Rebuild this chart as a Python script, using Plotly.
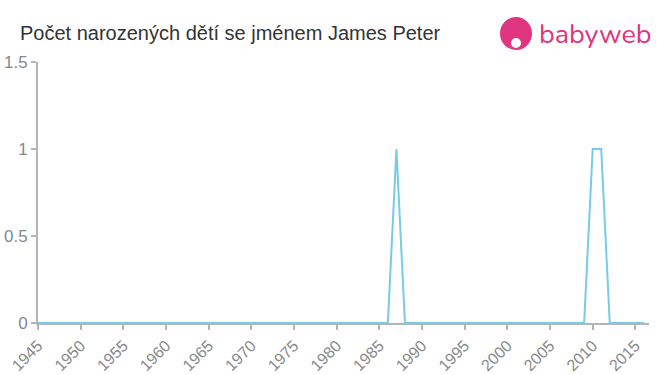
import plotly.graph_objects as go

years = list(range(1945, 2017))
ones = {1987, 2010, 2011}
counts = [1 if y in ones else 0 for y in years]
x_ticks = list(range(1945, 2016, 5))
y_ticks = [0, 0.5, 1, 1.5]
y_labels = ["0", "0.5", "1", "1.5"]

fig = go.Figure()
fig.add_trace(go.Scatter(x=years, y=counts, mode="lines",
                         line=dict(color="#76cbea", width=2), hoverinfo="skip",
                         cliponaxis=False))

fig.update_layout(
    width=660, height=375,
    margin=dict(l=38, r=11, t=62, b=52),
    paper_bgcolor="white", plot_bgcolor="white",
    showlegend=False,
    font=dict(family="Liberation Sans, Arial, sans-serif", color="#888"),
    title=dict(text="Počet narozených dětí se jménem James Peter",
               x=20/660, xref="container", xanchor="left",
               y=1-33/375, yref="container", yanchor="middle",
               font=dict(size=20, color="#333")),
)
fig.update_xaxes(range=[1945, 2016.6], tickvals=x_ticks, ticktext=[str(t) for t in x_ticks],
                 tickangle=-45, showgrid=False, zeroline=False, automargin=False,
                 showline=True, linecolor="#b5b5b5", linewidth=2,
                 ticks="outside", ticklen=5, tickcolor="#b5b5b5", tickwidth=2,
                 tickfont=dict(size=16, color="#888"))
fig.update_yaxes(range=[0, 1.5], tickvals=y_ticks, ticktext=y_labels,
                 showgrid=False, zeroline=False, automargin=False,
                 showline=True, linecolor="#b5b5b5", linewidth=2,
                 ticks="outside", ticklen=5, tickcolor="#b5b5b5", tickwidth=2,
                 tickfont=dict(size=17, color="#888"))

pink = "#e0357f"
# logo circle
fig.add_shape(type="circle", xref="paper", yref="paper",
              x0=(500-38)/611, x1=(532-38)/611,
              y0=(375-52-50)/261, y1=(375-52-17)/261,
              fillcolor=pink, line=dict(width=0), layer="above")
fig.add_shape(type="circle", xref="paper", yref="paper",
              x0=(511-38)/611, x1=(521-38)/611,
              y0=(375-52-48)/261, y1=(375-52-38)/261,
              fillcolor="white", line=dict(width=0), layer="above")
fig.add_annotation(text="babyweb", xref="paper", yref="paper",
                   x=(537-38)/611, y=(375-52-34)/261, xanchor="left", yanchor="middle",
                   showarrow=False, font=dict(size=27, color=pink,
                   family="Nunito, Lato, Arial Rounded MT Bold, sans-serif"))

fig.write_html("out.html")
